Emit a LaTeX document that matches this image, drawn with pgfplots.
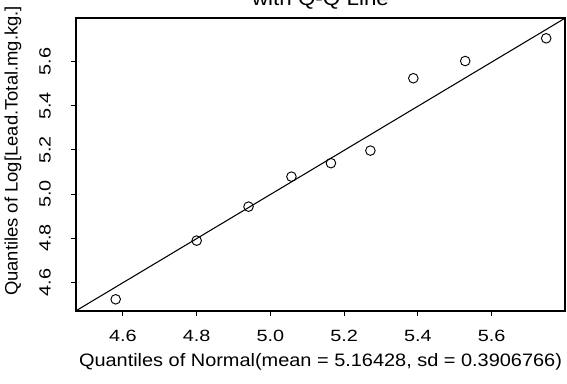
\documentclass[border=0pt]{standalone}
\usepackage{fontspec}
\setmainfont{Liberation Sans}
\newfontfamily\labfont{Liberation Sans}[FakeStretch=1.107]
\newfontfamily\ylabfont{Liberation Sans}[FakeStretch=1.024]
\newfontfamily\tickfont{Liberation Sans}[FakeStretch=1.22]
\newfontfamily\titfont{Liberation Sans}[FakeStretch=1.12]
\usepackage{pgfplots}
\pgfplotsset{compat=1.18}
\begin{document}
\begin{tikzpicture}
\begin{axis}[name=a, at={(0,0)}, anchor=south west,
  scale only axis, width=366.75pt, height=219.75pt,
  clip mode=individual,
  xmin=4.473, xmax=5.799, ymin=4.470, ymax=5.798,
  xtick={4.6,4.8,5.0,5.2,5.4,5.6}, xticklabels={},
  ytick={4.6,4.8,5.0,5.2,5.4,5.6}, yticklabels={},
  tick align=outside, major tick length=3.75pt,
  xtick pos=left, ytick pos=left,
  axis line style={line width=1.5pt},
  every tick/.style={black, line width=0.75pt},
  every axis x label/.style={at={(axis description cs:0.5,0)}, anchor=base, yshift=-41.25pt, font=\labfont\fontsize{13.5}{16}\selectfont},
  every axis y label/.style={at={(axis description cs:-0.11963,0.5461)}, rotate=90, anchor=base, font=\ylabfont\fontsize{13.5}{16}\selectfont},
  every axis title/.style={at={(axis description cs:0.5,1)}, anchor=base, yshift=9.75pt, font=\titfont\fontsize{15}{18}\selectfont},
  xlabel={Quantiles of Normal(mean = 5.16428, sd = 0.3906766)},
  ylabel={Quantiles of Log[Lead.Total.mg.kg.]},
  title={with Q-Q Line},
]
\addplot[black, line width=0.8pt] coordinates {(4.40,4.398) (5.90,5.898)};
\addplot[only marks, mark=o, mark size=3.6pt, mark options={line width=0.7pt, black}] coordinates {
 (4.5806,4.523) (4.8002,4.789) (4.9408,4.943) (5.0572,5.079) (5.1643,5.140)
 (5.2713,5.197) (5.3877,5.525) (5.5284,5.603) (5.7480,5.706)};
\pgfplotsinvokeforeach{4.6,4.8,5.0,5.2,5.4,5.6}{
  \node[yshift=-23.0pt, anchor=base, inner sep=0pt, font=\tickfont\fontsize{12.2}{14}\selectfont] at (axis cs:#1,4.470) {#1};
  \node[xshift=-19.1pt, rotate=90, anchor=base, inner sep=0pt, font=\tickfont\fontsize{12.2}{14}\selectfont] at (axis cs:4.473,#1) {#1};
}
\end{axis}
\pgfresetboundingbox
\useasboundingbox ([xshift=-57pt,yshift=-54pt]a.south west) rectangle ([xshift=1.5pt,yshift=13.5pt]a.north east);
\end{tikzpicture}
\end{document}
